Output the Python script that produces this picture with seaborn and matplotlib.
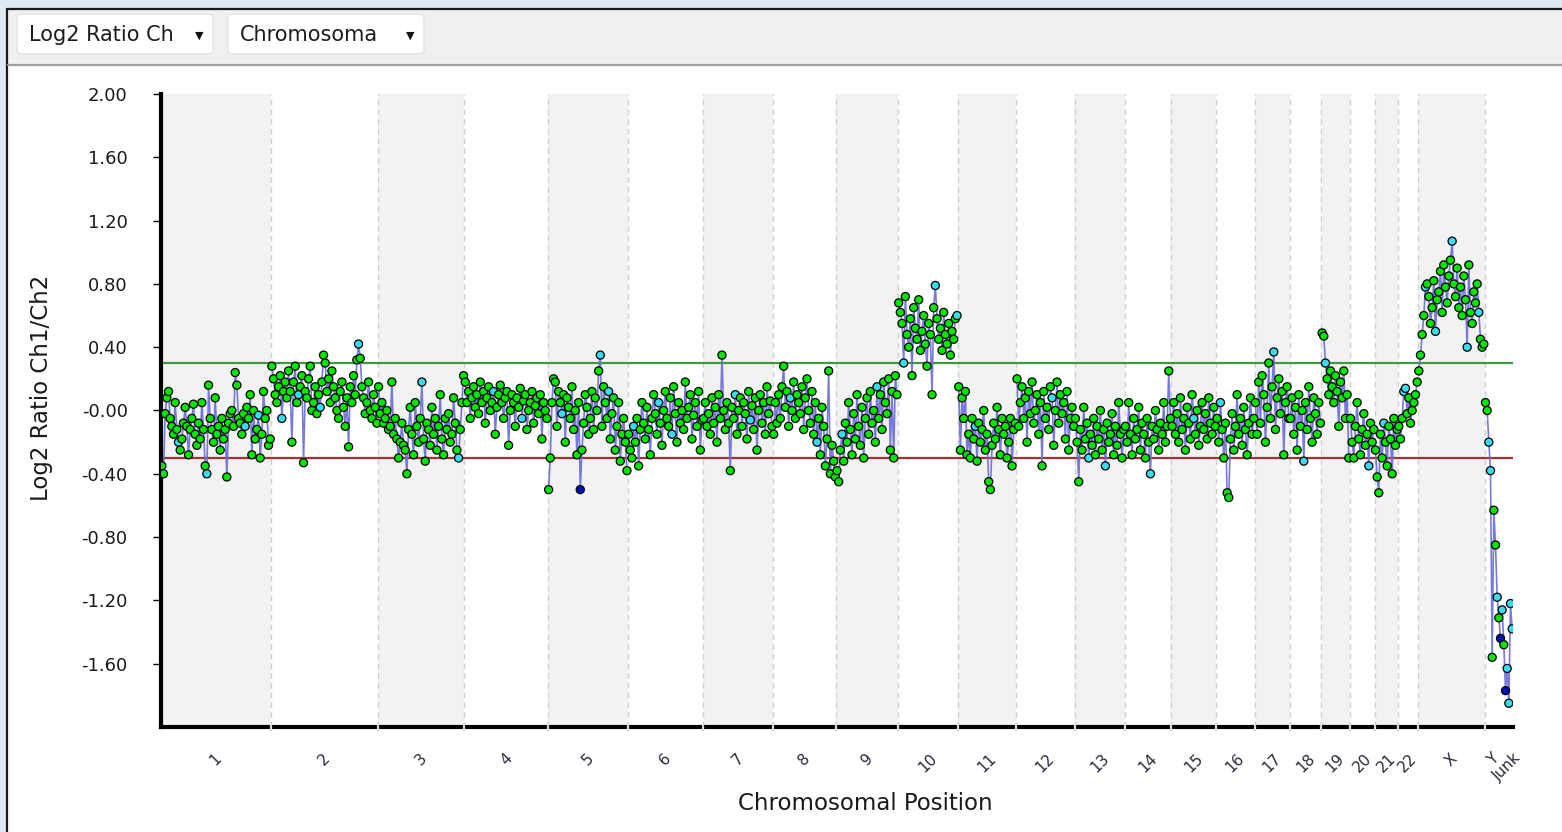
import numpy as np
import pandas as pd
import seaborn as sns
import matplotlib.pyplot as plt
from matplotlib.patches import Rectangle, FancyBboxPatch
from matplotlib.lines import Line2D
from matplotlib.transforms import blended_transform_factory

# ---------------- data (log2 ratio per probe, in genome order) ----------------
CHR1 = [-0.35, -0.40, -0.02, 0.08, 0.12, -0.05, -0.10, -0.15, 0.05, -0.12, -0.20, -0.25, -0.18, -0.08,
        0.02, -0.10, -0.28, -0.12, -0.05, 0.04, -0.15, -0.22, -0.08, -0.18, 0.05, -0.12, -0.35, -0.40,
        0.16, -0.05, -0.12, -0.20, 0.08, -0.15, -0.10, -0.25, -0.05, -0.18, -0.12, -0.42, -0.08, -0.02,
        0.00, -0.10, 0.24, 0.16, -0.05, -0.08, -0.15, -0.02, -0.10, 0.02, -0.05, 0.10, -0.28, 0.00,
        -0.18, -0.12, -0.03, -0.30, -0.15, 0.12, -0.05, 0.00, -0.22, -0.18]
CHR2 = [0.28, 0.20, 0.10, 0.05, 0.15, 0.22, -0.05, 0.12, 0.18, 0.08, 0.25, 0.12, -0.20, 0.18, 0.28,
        0.05, 0.10, 0.15, 0.22, -0.33, 0.12, 0.08, 0.20, 0.28, 0.00, 0.05, 0.15, -0.02, 0.10, 0.02,
        0.18, 0.35, 0.30, 0.12, 0.20, 0.05, 0.25, 0.15, 0.08, 0.00, -0.05, 0.12, 0.18, 0.02, -0.10,
        0.08, -0.23, 0.15, 0.05, 0.22, 0.10, 0.32, 0.42, 0.33, 0.15, 0.08, -0.02, 0.05, 0.18, 0.00,
        -0.05, 0.10, 0.02, -0.08]
CHR3 = [0.15, -0.02, 0.05, -0.08, -0.05, 0.00, -0.12, -0.10, 0.18, -0.15, -0.05, -0.18, -0.30, -0.20,
        -0.08, -0.22, -0.25, -0.40, -0.12, 0.02, -0.15, -0.28, 0.05, -0.10, -0.20, -0.05, 0.18, -0.18,
        -0.32, -0.08, -0.12, -0.22, 0.02, -0.15, -0.05, -0.25, -0.10, 0.10, -0.18, -0.28, -0.05, -0.12,
        -0.02, -0.20, -0.15, 0.08, -0.08, -0.25, -0.30, -0.12, 0.05, 0.22]
CHR4 = [0.18, 0.05, 0.12, -0.05, 0.08, 0.15, 0.02, 0.10, -0.02, 0.18, 0.05, 0.12, -0.08, 0.08, 0.15,
        0.00, 0.05, 0.12, -0.15, 0.02, 0.10, 0.16, 0.05, -0.05, 0.08, 0.12, -0.22, 0.00, 0.10, 0.05,
        -0.10, 0.08, 0.02, 0.14, -0.05, 0.06, 0.10, -0.12, 0.00, 0.05, 0.12, -0.08, 0.03, 0.08, -0.02,
        0.10, -0.18, 0.05, 0.00, -0.05]
CHR5 = [-0.50, -0.30, 0.05, 0.20, 0.18, -0.10, 0.12, 0.05, -0.02, 0.10, -0.20, 0.08, 0.02, -0.05, 0.15,
        -0.12, 0.00, -0.28, 0.05, -0.50, -0.25, -0.08, 0.10, 0.02, -0.15, -0.05, 0.12, -0.12, 0.08, 0.00,
        0.25, 0.35, -0.10, 0.15, 0.05, -0.05, 0.12, -0.18, -0.02, 0.08, -0.25, -0.10, 0.05, -0.32, -0.15,
        -0.05, -0.20, -0.38]
CHR6 = [-0.15, -0.25, -0.30, -0.10, -0.20, -0.05, -0.35, -0.12, 0.05, -0.08, -0.18, 0.02, -0.12, -0.28,
        -0.05, 0.10, -0.02, -0.15, 0.05, -0.08, -0.22, 0.00, 0.12, -0.05, -0.10, 0.08, -0.15, 0.15, -0.02,
        -0.20, 0.05, -0.08, 0.00, -0.12, 0.18, -0.05, 0.02, 0.10, -0.18, -0.03, 0.05, -0.10, 0.12, -0.25,
        -0.06]
CHR7 = [-0.05, 0.05, -0.10, -0.02, -0.15, 0.08, -0.08, 0.02, -0.20, 0.10, -0.05, 0.35, 0.00, -0.12, 0.05,
        -0.08, -0.38, 0.02, -0.05, 0.10, -0.15, 0.00, 0.08, -0.10, 0.05, -0.02, -0.18, 0.12, -0.06, 0.03,
        -0.12, 0.08, -0.25, 0.00, 0.10, -0.08, 0.05, -0.15, 0.15, -0.02, 0.06, -0.10]
CHR8 = [-0.15, 0.05, -0.08, 0.10, -0.05, 0.15, 0.28, 0.02, 0.12, -0.10, 0.08, 0.00, 0.18, -0.05, 0.10,
        0.05, -0.02, 0.15, -0.12, 0.08, 0.20, 0.00, -0.08, 0.12, -0.15, 0.05, -0.20, -0.05, -0.28, 0.02,
        -0.10, -0.35, -0.18, 0.25, -0.40, -0.22, -0.32, -0.42]
CHR9 = [-0.38, -0.45, -0.25, -0.15, -0.32, -0.08, -0.20, 0.05, -0.12, -0.28, -0.02, -0.18, 0.10, -0.10,
        -0.22, 0.02, -0.30, -0.05, 0.08, -0.15, 0.12, -0.08, 0.00, -0.20, 0.15, -0.05, 0.10, -0.12, 0.18,
        0.05, -0.02, 0.20, -0.25, 0.12, -0.30, 0.22, 0.10]
CHR10 = [0.68, 0.62, 0.55, 0.30, 0.72, 0.48, 0.40, 0.58, 0.22, 0.65, 0.52, 0.45, 0.70, 0.38, 0.50, 0.60,
         0.42, 0.28, 0.55, 0.48, 0.10, 0.65, 0.79, 0.58, 0.45, 0.52, 0.38, 0.62, 0.48, 0.42, 0.55, 0.35,
         0.50, 0.45, 0.58, 0.60]
CHR11 = [0.15, -0.25, 0.08, -0.05, 0.12, -0.28, -0.15, -0.30, -0.05, -0.18, -0.10, -0.32, -0.08, -0.20,
         -0.12, 0.00, -0.25, -0.15, -0.45, -0.50, -0.22, -0.08, -0.18, 0.02, -0.12, -0.28, -0.05, -0.15,
         -0.10, -0.30, -0.20, -0.05, -0.35, -0.12, -0.08]
CHR12 = [0.20, -0.10, 0.05, 0.15, -0.05, 0.08, -0.20, 0.12, -0.02, 0.18, -0.08, 0.00, 0.10, -0.15, 0.05,
         -0.35, 0.12, -0.05, 0.02, -0.12, 0.15, 0.08, -0.22, 0.00, 0.18, -0.08, 0.10, -0.02, 0.05, -0.18,
         0.12, -0.25, -0.05, 0.02, -0.10]
CHR13 = [-0.05, -0.20, -0.45, -0.12, -0.25, 0.02, -0.18, -0.08, -0.30, -0.15, -0.22, -0.05, -0.28, -0.10,
         -0.18, 0.00, -0.25, -0.12, -0.35, -0.08, -0.20, -0.15, -0.02, -0.28, -0.10, -0.22, 0.05, -0.15,
         -0.30, -0.12]
CHR14 = [-0.10, -0.20, 0.05, -0.15, -0.28, -0.05, -0.18, -0.12, 0.02, -0.25, -0.08, -0.15, -0.30, -0.05,
         -0.20, -0.40, -0.10, -0.18, 0.00, -0.12, -0.25, -0.08, -0.15, 0.05, -0.20, -0.10, 0.25, -0.05]
CHR15 = [-0.10, 0.05, -0.15, -0.02, -0.20, 0.08, -0.12, -0.05, -0.25, 0.02, -0.08, -0.18, 0.10, -0.05,
         -0.15, 0.00, -0.22, -0.10, 0.05, -0.12, -0.02, -0.18, 0.08, -0.08, -0.15, 0.02, -0.10]
CHR16 = [-0.05, -0.20, 0.05, -0.12, -0.30, -0.08, -0.52, -0.55, -0.18, -0.02, -0.25, -0.10, 0.10, -0.15,
         -0.05, -0.22, 0.02, -0.12, -0.28, -0.08, 0.08, -0.15, -0.05]
CHR17 = [0.05, -0.15, 0.18, -0.08, 0.22, 0.10, -0.20, 0.02, 0.30, -0.05, 0.15, 0.37, -0.12, 0.08, 0.20,
         -0.02, 0.12, -0.28, 0.05, 0.15, -0.05]
CHR18 = [-0.05, 0.08, -0.15, 0.02, -0.25, 0.10, -0.10, 0.00, -0.32, 0.05, -0.12, 0.15, -0.05, -0.20, 0.08,
         -0.02, -0.15, 0.05, -0.08]
CHR19 = [0.49, 0.47, 0.30, 0.20, 0.10, 0.25, 0.15, 0.05, 0.22, 0.12, -0.10, 0.18, 0.08, 0.25, -0.05, 0.10,
         -0.30]
CHR20 = [-0.05, -0.20, -0.30, -0.10, 0.05, -0.18, -0.28, -0.12, -0.02, -0.22, -0.15, -0.35, -0.08, -0.20,
         -0.12]
CHR21 = [-0.25, -0.42, -0.52, -0.15, -0.30, -0.08, -0.20, -0.35, -0.10, -0.18, -0.40, -0.05, -0.22, -0.12]
CHR22 = [-0.10, -0.18, -0.05, 0.12, 0.14, -0.02, 0.08, -0.08, 0.00, 0.05, 0.10, 0.18]
CHRX = [0.25, 0.35, 0.48, 0.60, 0.78, 0.80, 0.72, 0.55, 0.65, 0.82, 0.50, 0.70, 0.75, 0.88, 0.62, 0.92,
        0.78, 0.68, 0.85, 0.95, 1.07, 0.80, 0.72, 0.90, 0.65, 0.78, 0.60, 0.85, 0.70, 0.40, 0.92, 0.62,
        0.55, 0.75, 0.68, 0.80, 0.62, 0.45, 0.40, 0.42]
CHRY = [0.05, 0.00, -0.20, -0.38, -1.56, -0.63, -0.85, -1.18, -1.31, -1.44]
JUNK = [-1.26, -1.48, -1.77, -1.63, -1.85, -1.22, -1.38]

CHROM_NAMES = [str(i) for i in range(1, 23)] + ["X", "Y", "Junk"]
CHROM_VALUES = [CHR1, CHR2, CHR3, CHR4, CHR5, CHR6, CHR7, CHR8, CHR9, CHR10, CHR11, CHR12, CHR13,
                CHR14, CHR15, CHR16, CHR17, CHR18, CHR19, CHR20, CHR21, CHR22, CHRX, CHRY, JUNK]

# probes flagged with other colours (chromosome, probe index)
CYAN_POINTS = [("1", 10), ("1", 27), ("1", 50), ("1", 58), ("2", 6), ("2", 16), ("2", 29), ("2", 52),
               ("3", 26), ("3", 48), ("4", 17), ("4", 34), ("5", 8), ("5", 31), ("5", 36), ("6", 3),
               ("6", 18), ("6", 26), ("7", 28), ("7", 19), ("8", 26), ("8", 10), ("9", 24), ("9", 3),
               ("10", 3), ("10", 22), ("10", 35), ("11", 10), ("12", 21), ("13", 18), ("13", 8),
               ("14", 15), ("15", 13), ("16", 2), ("17", 11), ("18", 8), ("19", 2), ("20", 11),
               ("21", 5), ("22", 3), ("22", 4), ("X", 4), ("X", 10), ("X", 20), ("X", 29), ("X", 36),
               ("Y", 2), ("Y", 3), ("Y", 7), ("Junk", 0), ("Junk", 3), ("Junk", 4), ("Junk", 5), ("Junk", 6)]
DARK_POINTS = [("5", 19), ("Y", 9), ("Junk", 2)]

GAIN_THRESHOLD = 0.30
LOSS_THRESHOLD = -0.30
Y_TICKS = [-1.60, -1.20, -0.80, -0.40, 0.00, 0.40, 0.80, 1.20, 1.60, 2.00]

# ---------------- build table ----------------
rows = []
pos = 0
for name, vals in zip(CHROM_NAMES, CHROM_VALUES):
    for i, v in enumerate(vals):
        flag = "normal"
        if (name, i) in CYAN_POINTS:
            flag = "cyan"
        if (name, i) in DARK_POINTS:
            flag = "dark"
        rows.append({"pos": pos, "ratio": v, "chrom": name, "flag": flag})
        pos += 1
df = pd.DataFrame(rows)

sizes = [len(v) for v in CHROM_VALUES]
edges = np.concatenate([[0], np.cumsum(sizes)]) - 0.5
centers = (edges[:-1] + edges[1:]) / 2

# ---------------- figure frame (window look) ----------------
sns.set_theme(style="white")
plt.rcParams["font.family"] = ["DejaVu Sans"]

W, H = 1562, 832
fig = plt.figure(figsize=(W / 100, H / 100), dpi=100)
fig.patch.set_facecolor("#dfe9f1")


def fx(x):
    return x / W


def fy(y):
    return 1 - y / H


# white panel + toolbar (behind the axes)
fig.add_artist(Rectangle((fx(8), 0), 1 - fx(8), fy(9), transform=fig.transFigure,
                         facecolor="white", edgecolor="none", zorder=-5))
fig.add_artist(Rectangle((fx(8), fy(64)), 1 - fx(8), fy(10) - fy(64), transform=fig.transFigure,
                         facecolor="#f0f0f0", edgecolor="none", zorder=-4))
fig.add_artist(Line2D([fx(7), 1], [fy(9), fy(9)], transform=fig.transFigure, color="#1a1a1a", lw=1.6,
                      zorder=-3))
fig.add_artist(Line2D([fx(7.5), fx(7.5)], [0, fy(9)], transform=fig.transFigure, color="#1a1a1a", lw=1.6,
                      zorder=-3))
fig.add_artist(Line2D([fx(8), 1], [fy(65), fy(65)], transform=fig.transFigure, color="#a0a0a0", lw=1.6,
                      zorder=-3))

for x0, x1, label in [(17, 213, "Log2 Ratio Ch"), (228, 424, "Chromosoma")]:
    fig.add_artist(FancyBboxPatch((fx(x0), fy(54)), fx(x1 - x0), fy(14) - fy(54),
                                  boxstyle="round,pad=0,rounding_size=0.004",
                                  transform=fig.transFigure, facecolor="white",
                                  edgecolor="#e2e2e2", lw=1, zorder=-2))
    fig.text(fx(x0 + 12), fy(35), label, fontsize=15, color="#1c1c1c", va="center", ha="left")
    fig.text(fx(x1 - 14), fy(36), "\u25bc", fontsize=8, color="#111111", va="center", ha="center")

# ---------------- plot ----------------
ax = fig.add_axes([fx(161), fy(727), fx(1513 - 161), fy(94) - fy(727)])
ax.set_facecolor("white")

for k in range(len(CHROM_NAMES)):
    if k % 2 == 0 and CHROM_NAMES[k] not in ("Y", "Junk"):
        ax.axvspan(edges[k], edges[k + 1], color="#f2f2f2", lw=0, zorder=0)
for e in edges[1:-2]:
    ax.axvline(e, color="#cfcfcf", lw=1, ls=(0, (4, 3)), zorder=0.5)

# small light gaps where the chromosome boundaries cross the bottom axis line
trans = blended_transform_factory(ax.transData, ax.transAxes)
for e in edges[1:-2]:
    ax.plot([e, e], [-0.006, 0.004], transform=trans, color="#d9d9d9", lw=1.6,
            clip_on=False, zorder=4, solid_capstyle="butt")

ax.axhline(GAIN_THRESHOLD, color="#3f9a3f", lw=1.6, zorder=1)
ax.axhline(LOSS_THRESHOLD, color="#a33232", lw=1.6, zorder=1)

sns.lineplot(data=df, x="pos", y="ratio", units="chrom", estimator=None, sort=False,
             color="#6b6bd6", lw=1.2, alpha=0.9, ax=ax, zorder=2)
sns.scatterplot(data=df, x="pos", y="ratio", hue="flag",
                palette={"normal": "#00e400", "cyan": "#38dcec", "dark": "#0010b8"},
                s=34, edgecolor="black", linewidth=0.9, legend=False, ax=ax, zorder=3)

ax.set_xlim(edges[0], edges[-1])
ax.set_ylim(-2.0, 2.0)

ax.set_yticks(Y_TICKS)
ax.set_yticklabels(["-0.00" if t == 0 else f"{t:.2f}" for t in Y_TICKS])
ax.set_xticks(centers)
ax.set_xticklabels(CHROM_NAMES, rotation=45, ha="center", va="top")

ax.tick_params(axis="y", direction="out", length=6, width=1, color="black",
               labelsize=13, pad=18, left=True, labelcolor="#1a1a1a")
ax.tick_params(axis="x", length=0, labelsize=11, pad=17, labelcolor="#2a2a3a")

for side in ["top", "right"]:
    ax.spines[side].set_visible(False)
for side in ["left", "bottom"]:
    ax.spines[side].set_visible(True)
    ax.spines[side].set_color("black")
    ax.spines[side].set_linewidth(3)

ax.set_xlabel("")
ax.set_ylabel("")
fig.text(fx(42), fy(388), "Log2 Ratio Ch1/Ch2", rotation=90, fontsize=16.5,
         ha="center", va="center", color="#1a1a1a")
fig.text(fx(865), fy(803), "Chromosomal Position", fontsize=16.5,
         ha="center", va="center", color="#1a1a1a")

fig.savefig("out.png", dpi=100)
